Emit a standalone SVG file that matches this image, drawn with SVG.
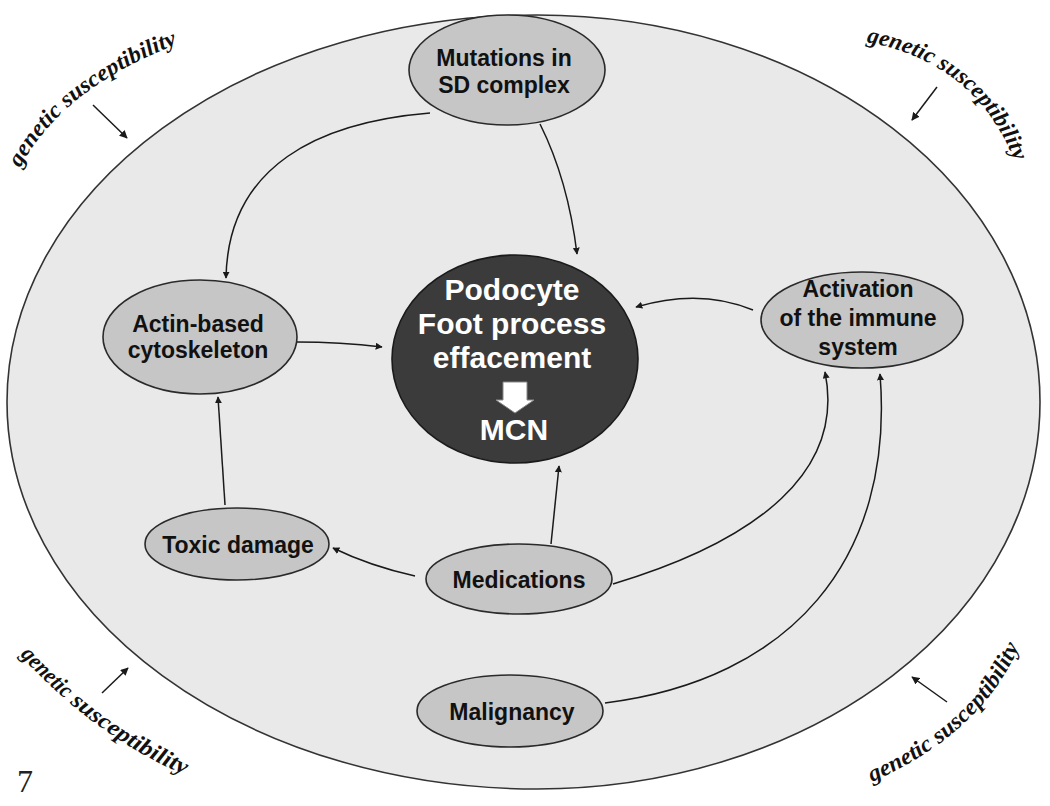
<svg xmlns="http://www.w3.org/2000/svg" width="1050" height="806" viewBox="0 0 1050 806">
<style>
.node{fill:#c6c6c6;stroke:#2a2a2a;stroke-width:1.6}
.lbl{font-family:"Liberation Sans",Arial,sans-serif;font-weight:bold;font-size:23px;fill:#111;text-anchor:middle}
.wlbl{font-family:"Liberation Sans",Arial,sans-serif;font-weight:bold;font-size:30px;fill:#fff;text-anchor:middle}
.con{fill:none;stroke:#1a1a1a;stroke-width:1.5;marker-end:url(#ah)}
.gen{font-family:"Liberation Serif","DejaVu Serif",serif;font-style:italic;font-weight:bold;font-size:23px;fill:#111}
</style>
<defs>
<marker id="ah" viewBox="0 0 10 10" refX="9" refY="5" markerWidth="7" markerHeight="7" orient="auto" markerUnits="userSpaceOnUse">
<path d="M0,0 L10,5 L0,10 z" fill="#1a1a1a"/>
</marker>
<marker id="ah2" viewBox="0 0 10 10" refX="9" refY="5" markerWidth="8" markerHeight="8" orient="auto" markerUnits="userSpaceOnUse">
<path d="M0,0 L10,5 L0,10 z" fill="#1a1a1a"/>
</marker>
<path id="gTL" d="M 20 168 Q 62 88 178 44"/>
<path id="gTR" d="M 866 42 Q 975 62 1014 160"/>
<path id="gBL" d="M 20 655 Q 98 740 192 778"/>
<path id="gBR" d="M 872 782 Q 985 732 1022 640"/>
</defs>
<rect width="1050" height="806" fill="#fff"/>
<g id="outer">
<path d="M 537 15 A 503 387 0 0 1 537 789 A 530 387 0 0 1 537 15 z" fill="#e9e9e9" stroke="#333" stroke-width="1.6"/>
</g>
<g id="genetic">
<text class="gen"><textPath href="#gTL" textLength="205" lengthAdjust="spacingAndGlyphs">genetic susceptibility</textPath></text>
<text class="gen"><textPath href="#gTR" textLength="200" lengthAdjust="spacingAndGlyphs">genetic susceptibility</textPath></text>
<text class="gen"><textPath href="#gBL" textLength="63" lengthAdjust="spacingAndGlyphs">genetic</textPath></text>
<text class="gen"><textPath href="#gBL" startOffset="69" textLength="136" lengthAdjust="spacingAndGlyphs">susceptibility</textPath></text>
<text class="gen"><textPath href="#gBR" textLength="205" lengthAdjust="spacingAndGlyphs">genetic susceptibility</textPath></text>
<line x1="93" y1="105" x2="127" y2="138" stroke="#1a1a1a" stroke-width="1.5" marker-end="url(#ah2)"/>
<line x1="937" y1="87" x2="912" y2="120" stroke="#1a1a1a" stroke-width="1.5" marker-end="url(#ah2)"/>
<line x1="102" y1="693" x2="128" y2="668" stroke="#1a1a1a" stroke-width="1.5" marker-end="url(#ah2)"/>
<line x1="947" y1="702" x2="912" y2="677" stroke="#1a1a1a" stroke-width="1.5" marker-end="url(#ah2)"/>
</g>
<g id="connectors">
<path class="con" d="M 430 113 C 320 122 228 165 226 278"/>
<path class="con" d="M 540 124 Q 568 180 577 254"/>
<path class="con" d="M 297 342 Q 340 342 382 347"/>
<path class="con" d="M 753 310 Q 700 288 636 307"/>
<path class="con" d="M 225 505 L 218 397"/>
<path class="con" d="M 415 576 Q 370 566 333 548"/>
<path class="con" d="M 551 544 L 559 466"/>
<path class="con" d="M 613 584 C 760 540 845 470 825 372"/>
<path class="con" d="M 605 703 C 790 680 895 560 880 374"/>
</g>
<g id="n-mutations">
<ellipse class="node" cx="507" cy="70" rx="98" ry="55"/>
<text class="lbl" x="504" y="66">Mutations in</text>
<text class="lbl" x="504" y="93">SD complex</text>
</g>
<g id="n-center">
<ellipse cx="515" cy="359" rx="123" ry="104" fill="#3b3b3b" stroke="#1a1a1a" stroke-width="1.6"/>
<text class="wlbl" x="512" y="300">Podocyte</text>
<text class="wlbl" x="512" y="334">Foot process</text>
<text class="wlbl" x="512" y="368">effacement</text>
<path d="M 503 382 L 527 382 L 527 400 L 534 400 L 515 413 L 496 400 L 503 400 z" fill="#fff" stroke="#888" stroke-width="1"/>
<text class="wlbl" x="514" y="440">MCN</text>
</g>
<g id="n-actin">
<ellipse class="node" cx="200" cy="337" rx="97" ry="57"/>
<text class="lbl" x="198" y="332">Actin-based</text>
<text class="lbl" x="198" y="358">cytoskeleton</text>
</g>
<g id="n-activation">
<ellipse class="node" cx="862" cy="320" rx="101" ry="48"/>
<text class="lbl" x="858" y="297">Activation</text>
<text class="lbl" x="858" y="326">of the immune</text>
<text class="lbl" x="858" y="355">system</text>
</g>
<g id="n-toxic">
<ellipse class="node" cx="237" cy="544" rx="92" ry="36"/>
<text class="lbl" x="238" y="553">Toxic damage</text>
</g>
<g id="n-medications">
<ellipse class="node" cx="519" cy="579" rx="93" ry="35"/>
<text class="lbl" x="519" y="588">Medications</text>
</g>
<g id="n-malignancy">
<ellipse class="node" cx="510" cy="711" rx="93" ry="36"/>
<text class="lbl" x="512" y="720">Malignancy</text>
</g>
<text x="17" y="792" font-family="Liberation Serif,serif" font-size="32" fill="#222">7</text>
</svg>
